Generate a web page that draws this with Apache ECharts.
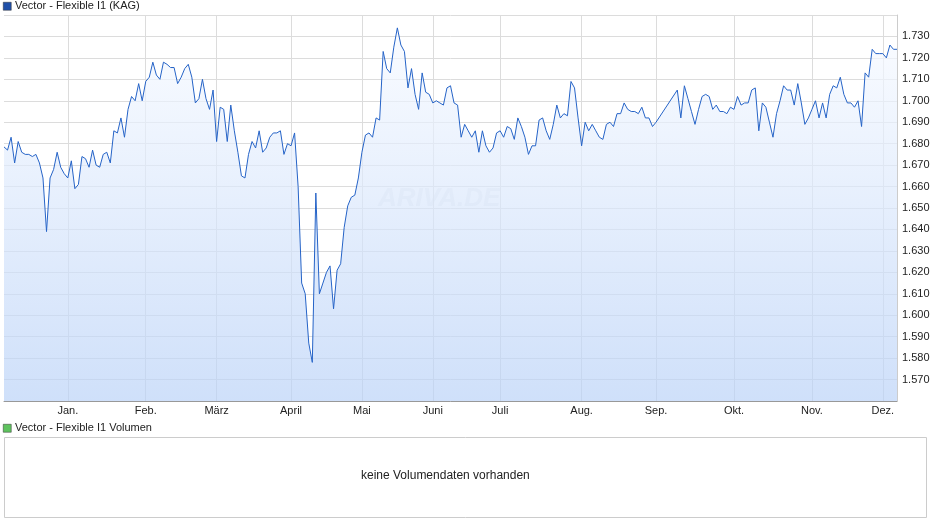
<!DOCTYPE html>
<html><head><meta charset="utf-8">
<script src="https://cdn.jsdelivr.net/npm/echarts@6/dist/echarts.min.js"></script>
<style>html,body{margin:0;padding:0;background:#fff}#c{width:940px;height:526px}</style>
</head><body><div id="c"></div>
<script>
const seriesName = "Vector - Flexible I1 (KAG)";
const volumeName = "Vector - Flexible I1 Volumen";
const noVolumeText = "keine Volumendaten vorhanden";
const monthLabels = ["Jan.","Feb.","März","April","Mai","Juni","Juli","Aug.","Sep.","Okt.","Nov.","Dez."];
const yTicks = [1.570,1.580,1.590,1.600,1.610,1.620,1.630,1.640,1.650,1.660,1.670,1.680,1.690,1.700,1.710,1.720,1.730];
const valuesA = [1.6785,1.677,1.683,1.671,1.681,1.676,1.675,1.675,1.674,1.675,1.671,1.664,1.639,1.664,1.668,1.676,1.669,1.666,1.664,1.672,1.659,1.661,1.674,1.673,1.669,1.677,1.670,1.669,1.675,1.676,1.671,1.686,1.685,1.692,1.683,1.696,1.702,1.700,1.708,1.700,1.709,1.711,1.718,1.712,1.710,1.718,1.717,1.7155,1.7155,1.708,1.711,1.715,1.717,1.711,1.699,1.701,1.710,1.701,1.696,1.705,1.681,1.697,1.696,1.681,1.698,1.686,1.676,1.665,1.664,1.675,1.681,1.678,1.686,1.676,1.678,1.683,1.685,1.685,1.686,1.675,1.680,1.679,1.685,1.660,1.615,1.610,1.587];
const valuesB = [1.578,1.657,1.610,1.615,1.620,1.623,1.603,1.621,1.624,1.641,1.651,1.655,1.656,1.664,1.676,1.684,1.685,1.683,1.692,1.691,1.723,1.715,1.713,1.725,1.734,1.726,1.723,1.706,1.715,1.703,1.696,1.713,1.704,1.703,1.699,1.700,1.699,1.698,1.706,1.707,1.699,1.698,1.683,1.689,1.686,1.683,1.686,1.676,1.686,1.679,1.676,1.678,1.685,1.686,1.683,1.688,1.687,1.682,1.692,1.688,1.683,1.675,1.679,1.679,1.691,1.692,1.686,1.682,1.689,1.698,1.692,1.694,1.693,1.709,1.706,1.692,1.679,1.690,1.686,1.689,1.686,1.683,1.682,1.689];
const valuesC = [1.690,1.688,1.694,1.694,1.699,1.696,1.695,1.695,1.694,1.697,1.692,1.692,1.688,1.690];
const gapValues = [null,null,null,null,null];
const valuesD = [1.705,1.692,1.707,1.701,1.695,1.689,1.696,1.702,1.703,1.702,1.696,1.698,1.695,1.695,1.694,1.697,1.696,1.702,1.698,1.699,1.699,1.705,1.706,1.686,1.699,1.697,1.690,1.683,1.694,1.700,1.707,1.705,1.705,1.698,1.708,1.699,1.689,1.692,1.696,1.700,1.692,1.699,1.692,1.703,1.707,1.706,1.711,1.703,1.699,1.699,1.697,1.700,1.688,1.713,1.711,1.724,1.722,1.722,1.722,1.720,1.726,1.724,1.724];
const holidays = ["2024-12-24","2024-12-25","2024-12-26","2024-12-31","2025-01-01","2025-04-18","2025-04-21","2025-05-01","2025-05-29","2025-06-09","2025-06-19","2025-10-03"];
const startDate = "2024-12-02";

function fmt(d){return d.toISOString().slice(0,10);}
function tradingDates(from, n){
  const out=[]; const d=new Date(from+"T00:00:00Z");
  while(out.length<n){
    const s=fmt(d), w=d.getUTCDay();
    if(w!==0&&w!==6&&!holidays.includes(s)) out.push(s);
    d.setUTCDate(d.getUTCDate()+1);
  }
  return out;
}
const allValues = valuesA.concat(valuesB, valuesC, gapValues, valuesD);
const dates = tradingDates(startDate, allValues.length);
const isMonthStart = i => i>0 && dates[i].slice(5,7)!==dates[i-1].slice(5,7);

const chart = echarts.init(document.getElementById('c'), null, {renderer:'canvas'});
chart.setOption({
  animation:false,
  textStyle:{fontFamily:'Liberation Sans, Arial, sans-serif'},
  grid:{left:4,right:43,top:15,bottom:125},
  xAxis:{type:'category',data:dates,boundaryGap:false,
    axisLine:{lineStyle:{color:'#999'}},
    axisTick:{show:false},
    splitLine:{show:true,interval:(i)=>isMonthStart(i),lineStyle:{color:'#dcdcdc'}},
    axisLabel:{color:'#222',fontSize:11,margin:4,interval:(i)=>isMonthStart(i),
      formatter:v=>monthLabels[parseInt(v.slice(5,7),10)-1]},
  },
  yAxis:{type:'value',position:'right',min:1.56,max:1.74,interval:0.01,
    axisLine:{show:true,lineStyle:{color:'#ccc'}},axisTick:{show:false},
    splitLine:{lineStyle:{color:'#dcdcdc'}},
    axisLabel:{color:'#222',fontSize:11,margin:5,
      formatter:v=>yTicks.some(t=>Math.abs(t-v)<1e-6)?v.toFixed(3):''}},
  series:[{type:'line',data:allValues,connectNulls:true,symbol:'none',lineStyle:{color:'#2563c7',width:1},
    areaStyle:{color:new echarts.graphic.LinearGradient(0,0,0,1,[{offset:0,color:'#f7faff'},{offset:1,color:'#bad2f7'}])}}],
  graphic:[
    {type:'rect',left:3,top:2,shape:{width:8,height:8},style:{fill:'#1f4fa8',stroke:'#333',lineWidth:0.5}},
    {type:'text',left:15,top:0,style:{text:seriesName,fontSize:11,fill:'#222',fontFamily:'Liberation Sans'}},
    {type:'text',left:378,top:186,style:{text:'ARIVA.DE',fontSize:26,fontStyle:'italic',fontWeight:'bold',fill:'rgba(160,170,190,0.18)',fontFamily:'Liberation Sans'}},
    {type:'rect',left:3,top:424,shape:{width:8,height:8},style:{fill:'#5ec35e',stroke:'#333',lineWidth:0.5}},
    {type:'text',left:15,top:422,style:{text:volumeName,fontSize:11,fill:'#222',fontFamily:'Liberation Sans'}},
    {type:'rect',left:4,top:437,shape:{width:922,height:80},style:{fill:'#fff',stroke:'#ccc',lineWidth:1}},
    {type:'text',left:361,top:470,style:{text:noVolumeText,fontSize:12,fill:'#222',fontFamily:'Liberation Sans'}}
  ]
});
</script></body></html>
